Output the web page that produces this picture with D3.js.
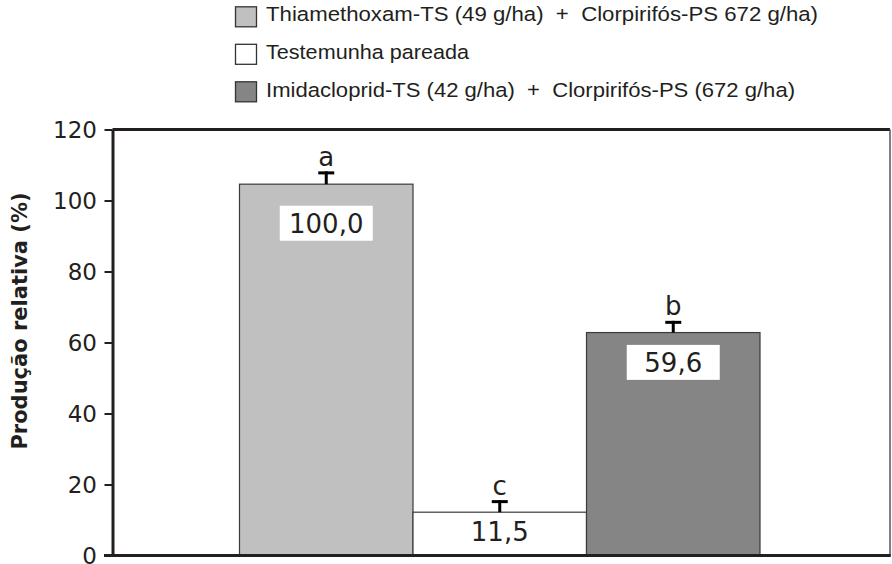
<!DOCTYPE html>
<html>
<head>
<meta charset="utf-8">
<script src="https://cdn.jsdelivr.net/npm/d3@7"></script>
<style>
  html, body { margin: 0; padding: 0; background: #fff; }
  svg { display: block; }
</style>
</head>
<body>
<svg id="chart" width="892" height="564"></svg>
<script>
// ---- data ----
const categories = [
  "Thiamethoxam-TS (49 g/ha)  +  Clorpirifós-PS 672 g/ha)",
  "Testemunha pareada",
  "Imidacloprid-TS (42 g/ha)  +  Clorpirifós-PS (672 g/ha)"
];
const values = [104.6, 12.2, 62.8];
const errors = [3.6, 3.4, 3.3];
const valueLabels = ["100,0", "11,5", "59,6"];
const letters = ["a", "c", "b"];
const yTicks = [0, 20, 40, 60, 80, 100, 120];
const fills = ["#c0c0c0", "#ffffff", "#858585"];
// label box centres, in data units
const labelAt = [93.6, 6.9, 54.4];

// ---- layout ----
const ink = "#231f20";
const svg = d3.select("#chart");
const mLeft = 112.5, mRight = 890, mTop = 129.5, mBottom = 555.5;

const y = d3.scaleLinear().domain([0, 120]).range([mBottom, mTop]);
const x = d3.scaleBand().domain(d3.range(categories.length)).range([239.5, 760]).padding(0);

// bars
const g = svg.append("g");
g.selectAll("rect.bar").data(values).join("rect")
  .attr("class", "bar")
  .attr("x", (d, i) => x(i))
  .attr("width", x.bandwidth())
  .attr("y", d => y(d))
  .attr("height", d => y(0) - y(d))
  .attr("fill", (d, i) => fills[i])
  .attr("stroke", "#3a3a3a")
  .attr("stroke-width", 1.2);

// error bars
values.forEach((v, i) => {
  const cx = x(i) + x.bandwidth() / 2;
  g.append("line")
    .attr("x1", cx).attr("x2", cx)
    .attr("y1", y(v)).attr("y2", y(v + errors[i]))
    .attr("stroke", "#000").attr("stroke-width", 3);
  g.append("line")
    .attr("x1", cx - 8).attr("x2", cx + 8)
    .attr("y1", y(v + errors[i]) + 1.5).attr("y2", y(v + errors[i]) + 1.5)
    .attr("stroke", "#000").attr("stroke-width", 3);
  // letter
  g.append("text")
    .attr("x", cx).attr("y", y(v + errors[i]) - 5.5)
    .attr("text-anchor", "middle")
    .attr("font-family", "'DejaVu Sans', sans-serif")
    .attr("font-size", 26)
    .attr("fill", ink)
    .text(letters[i]);
  // value label box
  const ly = y(labelAt[i]);
  g.append("rect")
    .attr("x", cx - 46.5).attr("y", ly - 17.5)
    .attr("width", 93).attr("height", 35)
    .attr("fill", "#fff");
  g.append("text")
    .attr("x", cx).attr("y", ly + 9.5)
    .attr("text-anchor", "middle")
    .attr("font-family", "'DejaVu Sans', sans-serif")
    .attr("font-size", 26)
    .attr("fill", ink)
    .text(valueLabels[i]);
});

// frame
svg.append("line").attr("x1", mLeft).attr("x2", mRight).attr("y1", mTop).attr("y2", mTop)
  .attr("stroke", ink).attr("stroke-width", 3);
svg.append("line").attr("x1", mRight).attr("x2", mRight).attr("y1", mTop).attr("y2", mBottom)
  .attr("stroke", "#555").attr("stroke-width", 1.5);
svg.append("line").attr("x1", 104).attr("x2", mRight + 0.75).attr("y1", mBottom).attr("y2", mBottom)
  .attr("stroke", ink).attr("stroke-width", 3);

// y axis
const yAxis = d3.axisLeft(y).tickValues(yTicks).tickSize(8).tickSizeOuter(0).tickPadding(7.5);
const ax = svg.append("g").attr("transform", `translate(${mLeft},0)`).call(yAxis);
ax.select(".domain").attr("stroke", ink).attr("stroke-width", 3);
ax.selectAll(".tick line").attr("stroke", ink).attr("stroke-width", 2);
ax.selectAll(".tick text")
  .attr("font-family", "'DejaVu Sans', sans-serif")
  .attr("font-size", 23)
  .attr("fill", ink)
  .attr("dy", "0.33em");

// y title
svg.append("text")
  .attr("transform", "translate(27,321) rotate(-90)")
  .attr("text-anchor", "middle")
  .attr("font-family", "'DejaVu Sans', sans-serif")
  .attr("font-weight", "bold")
  .attr("font-size", 21)
  .attr("fill", ink)
  .text("Produção relativa (%)");

// legend
const legendWidths = [552, 203, 529];
const lg = svg.append("g");
categories.forEach((c, i) => {
  const cy = 16.8 + i * 37.5;
  lg.append("rect")
    .attr("x", 235.5).attr("y", cy - 10)
    .attr("width", 21).attr("height", 20)
    .attr("fill", fills[i])
    .attr("stroke", "#333").attr("stroke-width", 1.3);
  lg.append("text")
    .attr("x", 266).attr("y", 20.5 + i * 38.2)
    .attr("font-family", "'Liberation Sans Narrow', 'Arial Narrow', 'Liberation Sans', sans-serif")
    .attr("font-size", 20.5)
    .attr("fill", ink)
    .attr("xml:space", "preserve")
    .style("white-space", "pre")
    .attr("textLength", legendWidths[i])
    .attr("lengthAdjust", "spacingAndGlyphs")
    .text(c);
});
</script>
</body>
</html>
